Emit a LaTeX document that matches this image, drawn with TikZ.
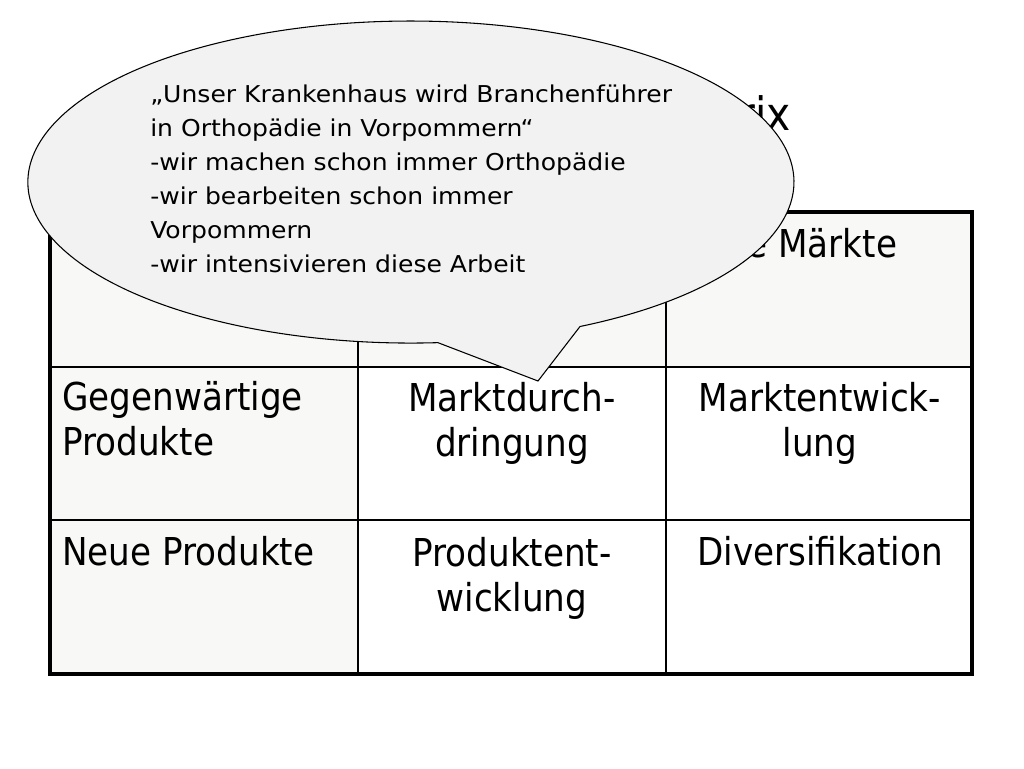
\documentclass[tikz,border=0pt]{standalone}
\usepackage{fontspec}
\setmainfont{DejaVu Sans}
\newfontfamily\tabfont[FakeStretch=0.89]{DejaVu Sans}
\newfontfamily\callfont[FakeStretch=1.08]{DejaVu Sans}
\definecolor{cellgray}{HTML}{F8F8F6}
\definecolor{callgray}{HTML}{F2F2F2}
\tikzset{
  tabtext/.style={inner sep=0pt, font=\tabfont\fontsize{28.8}{33.75}\selectfont},
  calltext/.style={inner sep=0pt, align=left, font=\callfont\fontsize{17.4}{25.5}\selectfont},
  titletext/.style={inner sep=0pt, font=\tabfont\fontsize{34.5}{40}\selectfont},
  outer/.style={line width=2.3pt, draw=black},
  inner/.style={line width=1.3pt, draw=black},
  callshape/.style={fill=callgray, draw=black, line width=0.8pt, line join=miter}
}
\begin{document}
\begin{tikzpicture}[x=0.75pt, y=-0.75pt]
\useasboundingbox (0,0) rectangle (1024,768);
\fill[white] (0,0) rectangle (1024,768);
% fills
\fill[cellgray] (50,212) rectangle (358,674);
\fill[cellgray] (358,212) rectangle (972,367);
% inner lines
\draw[inner] (358,212) -- (358,674);
\draw[inner] (666,212) -- (666,674);
\draw[inner] (50,367) -- (972,367);
\draw[inner] (50,520) -- (972,520);
% outer border
\draw[outer] (50,212) rectangle (972,674);
% title
\node[titletext, anchor=base east] (title) at (791,130) {Ansoff-Matrix};
% table texts (base anchor = baseline of last line)
\node[tabtext, anchor=base west] (h3) at (678,257) {Neue Märkte};
\node[tabtext, anchor=base west, align=left] (r1c1) at (62,455) {Gegenwärtige\\Produkte};
\node[tabtext, anchor=base, align=center] (r1c2) at (512,456) {Marktdurch-\\dringung};
\node[tabtext, anchor=base, align=center] (r1c3) at (820,456) {Marktentwick-\\lung};
\node[tabtext, anchor=base west] (r2c1) at (62,565) {Neue Produkte};
\node[tabtext, anchor=base, align=center] (r2c2) at (512,611) {Produktent-\\wicklung};
\node[tabtext, anchor=base] (r2c3) at (820,565) {Diversifikation};
% callout
\draw[callshape] (580,326.5) arc[start angle=63.8, end angle=-274.04, x radius=383, y radius=161] -- (538,381) -- cycle;
\node[calltext, anchor=base west] (call) at (150,272) {„Unser Krankenhaus wird Branchenführer\\in Orthopädie in Vorpommern“\\-wir machen schon immer Orthopädie\\-wir bearbeiten schon immer\\Vorpommern\\-wir intensivieren diese Arbeit};
\end{tikzpicture}
\end{document}
